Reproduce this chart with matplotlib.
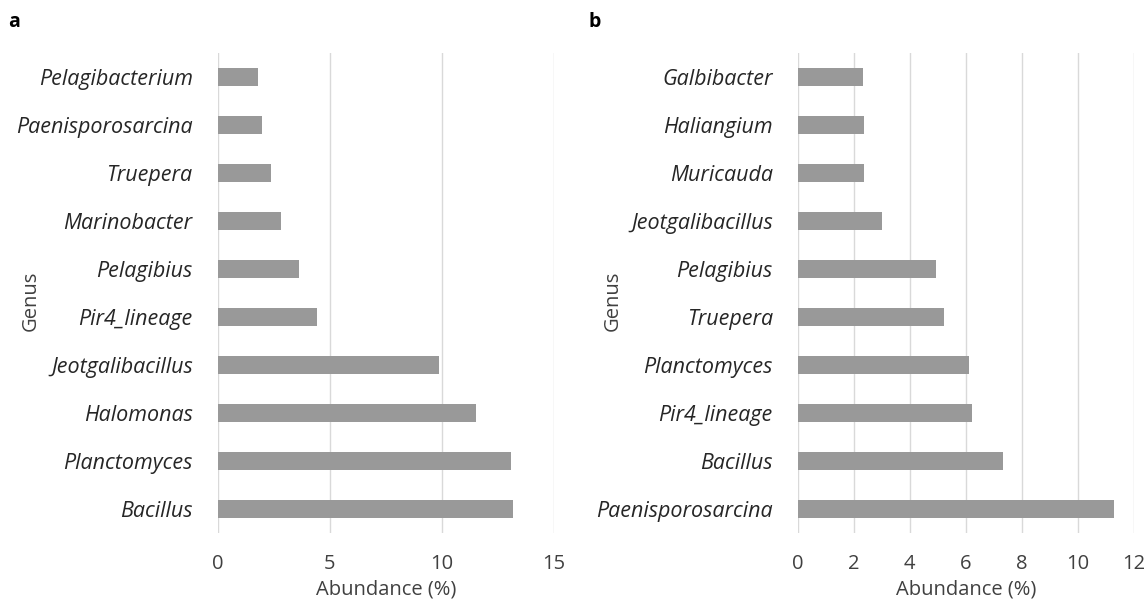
import matplotlib
matplotlib.use("Agg")
import matplotlib.pyplot as plt

# Panel a data (top to bottom order as shown)
genus_a = ["Pelagibacterium", "Paenisporosarcina", "Truepera", "Marinobacter", "Pelagibius",
           "Pir4_lineage", "Jeotgalibacillus", "Halomonas", "Planctomyces", "Bacillus"]
abund_a = [1.81, 1.96, 2.38, 2.84, 3.63, 4.44, 9.86, 11.52, 13.07, 13.19]
ticks_a = [0, 5, 10, 15]

# Panel b data
genus_b = ["Galbibacter", "Haliangium", "Muricauda", "Jeotgalibacillus", "Pelagibius",
           "Truepera", "Planctomyces", "Pir4_lineage", "Bacillus", "Paenisporosarcina"]
abund_b = [2.34, 2.37, 2.37, 3.02, 4.95, 5.21, 6.11, 6.23, 7.34, 11.29]
ticks_b = [0, 2, 4, 6, 8, 10, 12]

FONT = "Open Sans"
fig = plt.figure(figsize=(11.48, 6.01), dpi=100)

def panel(rect, names, vals, ticks, letter, letter_x, genus_x):
    ax = fig.add_axes(rect)
    n = len(names)
    ypos = list(range(n))[::-1]
    ax.barh(ypos, vals, height=0.36, color="#999999", zorder=3)
    ax.set_ylim(-0.5, n - 0.5)
    ax.set_xlim(ticks[0], ticks[-1])
    ax.set_xticks(ticks)
    ax.set_yticks(ypos)
    ax.set_yticklabels(names, fontstyle="italic", fontsize=15.5, family=FONT, color="#262626")
    ax.set_xticklabels([str(t) for t in ticks], fontsize=14.5, family=FONT, color="#404040")
    ax.tick_params(axis="both", length=0)
    ax.tick_params(axis="y", pad=18)
    ax.tick_params(axis="x", pad=15)
    for s in ["top", "right", "bottom", "left"]:
        ax.spines[s].set_visible(False)
    for t in ticks:
        ax.axvline(t, color="#d9d9d9", lw=1.0, zorder=1)
    ax.set_xlabel("Abundance (%)", fontsize=14.5, family=FONT, color="#404040", labelpad=4)
    fig.text(genus_x, 0.5, "Genus", rotation=90, ha="center", va="center",
             fontsize=14.5, family=FONT, color="#404040")
    fig.text(letter_x, 0.963, letter, fontsize=14, fontweight="bold", family=FONT,
             ha="left", va="center", color="#000000")
    return ax

panel([0.1896, 0.1131, 0.293, 0.7987], genus_a, abund_a, ticks_a, "a", 0.007, 0.027)
panel([0.6949, 0.1131, 0.293, 0.7987], genus_b, abund_b, ticks_b, "b", 0.513, 0.534)

fig.savefig("out.png", dpi=100)
